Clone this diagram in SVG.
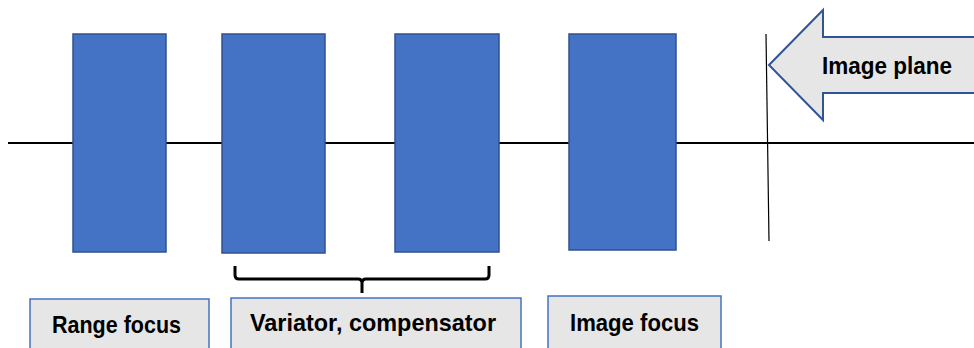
<svg xmlns="http://www.w3.org/2000/svg" width="974" height="348" viewBox="0 0 974 348">
<style>
.lens{fill:#4472c4;stroke:#2f528f;stroke-width:1.5}
.lbl{fill:#e7e6e6;stroke:#4472c4;stroke-width:1.5}
.t{font-family:"Liberation Sans",Arial,sans-serif;font-weight:bold;font-size:24px;fill:#000}
.ax{stroke:#000;fill:none}
</style>
<rect width="974" height="348" fill="#fff"/>
<g id="connectors">
<line class="ax" x1="8" y1="143" x2="974" y2="143" stroke-width="2"/>
<line class="ax" x1="766" y1="34" x2="769" y2="241" stroke-width="1.2"/>
<path class="ax" stroke-width="3" d="M235,266 V275 Q235,279 239,279 H358 Q362,279 362,283 V293 M362,283 Q362,279 366,279 H485 Q489,279 489,275 V266"/>
</g>
<g id="lens1"><rect class="lens" x="73" y="34" width="93" height="218"/></g>
<g id="lens2"><rect class="lens" x="222" y="34" width="103" height="219"/></g>
<g id="lens3"><rect class="lens" x="395" y="34" width="104" height="218"/></g>
<g id="lens4"><rect class="lens" x="569" y="34" width="107" height="216"/></g>
<g id="image-plane">
<path d="M769,65 L823,10 V37 H976 V93 H823 V120 Z" fill="#e7e6e6" stroke="#2f5597" stroke-width="2" stroke-linejoin="miter"/>
<text class="t" x="822" y="74" textLength="130" lengthAdjust="spacingAndGlyphs">Image plane</text>
</g>
<g id="range-focus">
<rect class="lbl" x="30" y="299" width="179" height="55"/>
<text class="t" x="52" y="333" textLength="129" lengthAdjust="spacingAndGlyphs">Range focus</text>
</g>
<g id="variator-compensator">
<rect class="lbl" x="231" y="298" width="290" height="56"/>
<text class="t" x="250" y="331" textLength="246" lengthAdjust="spacingAndGlyphs">Variator, compensator</text>
</g>
<g id="image-focus">
<rect class="lbl" x="548" y="296" width="173" height="58"/>
<text class="t" x="570" y="331" textLength="129" lengthAdjust="spacingAndGlyphs">Image focus</text>
</g>
</svg>
